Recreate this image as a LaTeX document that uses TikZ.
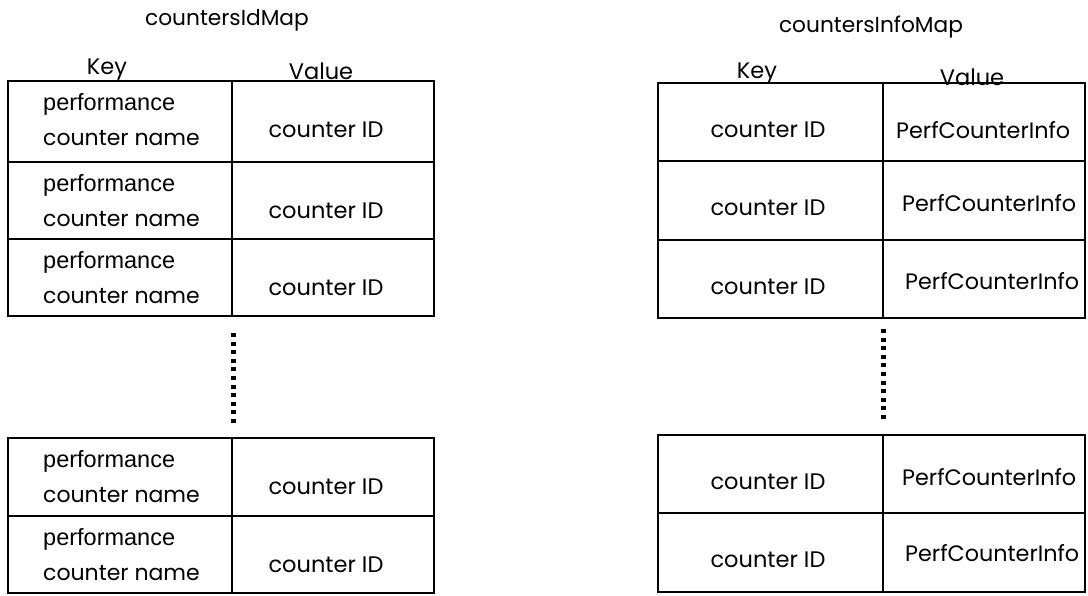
\documentclass[tikz,border=0pt]{standalone}
\usepackage{fontspec}
\setmainfont{Poppins}
\newfontfamily\arialf{Liberation Sans}
\begin{document}
\begin{tikzpicture}[x=1pt,y=-1pt,
 cell/.style={draw=black, line width=1.2pt, anchor=north west, inner sep=0pt, outer sep=0pt},
 lbl/.style={font=\fontsize{22.5}{26}\selectfont, inner sep=0pt},
 pci/.style={font=\fontsize{22.3}{26}\selectfont, inner sep=0pt, anchor=west},
 ttl/.style={font=\fontsize{21.7}{25}\selectfont, inner sep=0pt},
 ar/.style={font=\arialf\fontsize{23.5}{27}\selectfont, inner sep=0pt, anchor=west},
 nm/.style={font=\fontsize{22}{26}\selectfont, inner sep=0pt, anchor=west},
 dotline/.style={line width=5pt, dash pattern=on 4pt off 4.6pt}]
\useasboundingbox (0,0) rectangle (1088,595);
% titles
\node[ttl] (t1) at (227,20) {countersIdMap};
\node[ttl] (t2) at (871,27) {countersInfoMap};
\node[lbl] (lkey) at (107,70) {Key};
\node[lbl] (lval) at (321,71) {Value};
\node[lbl] (rkey) at (757,74) {Key};
\node[lbl] (rval) at (972,77) {Value};
% left table
\foreach \n/\t/\h in {1/81/81, 2/162/77, 3/239/77, 4/438/78, 5/516/77}{
  \node[cell, minimum width=224pt, minimum height=\h pt] (lk\n) at (8,\t) {};
  \node[cell, minimum width=202pt, minimum height=\h pt] (lv\n) at (232,\t) {};
  \node[ar] (lp\n) at (43,\t+23) {performance};
  \node[nm] (lc\n) at (43,\t+57) {counter name};
  \node[lbl] (lid\n) at (326,\t+49) {counter ID};
}
% right table
\foreach \n/\t/\h/\px/\py in {1/83/78/896/130, 2/161/79/902/203, 3/240/78/905/281, 4/435/78/902/477, 5/513/79/905/553}{
  \node[cell, minimum width=225pt, minimum height=\h pt] (rk\n) at (658,\t) {};
  \node[cell, minimum width=202pt, minimum height=\h pt] (rv\n) at (883,\t) {};
  \node[lbl] (rid\n) at (768,\t+47) {counter ID};
  \node[pci] (rpc\n) at (\px,\py) {PerfCounterInfo};
}
% dotted continuation marks
\coordinate (ld1) at (233,333);
\coordinate (ld2) at (233,423);
\coordinate (rd1) at (883,329);
\coordinate (rd2) at (883,419);
\draw[dotline] (ld1) -- (ld2);
\draw[dotline] (rd1) -- (rd2);
\end{tikzpicture}
\end{document}
